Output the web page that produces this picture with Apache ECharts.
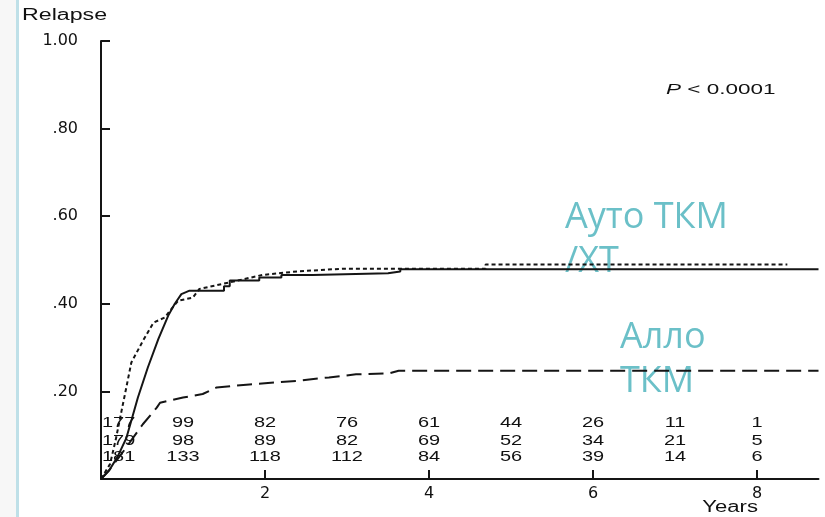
<!DOCTYPE html>
<html>
<head>
<meta charset="utf-8">
<script src="https://cdn.jsdelivr.net/npm/echarts@6/dist/echarts.min.js"></script>
<style>
  html, body { margin: 0; padding: 0; background: #fff; }
  #chart { width: 825px; height: 517px; }
</style>
</head>
<body>
<div id="chart"></div>
<script>
// cumulative relapse curves, [years, relapse]
const autoSolid = [
  [0, 0], [0.1, 0.02], [0.2, 0.05], [0.31, 0.094], [0.38, 0.14], [0.45, 0.186],
  [0.57, 0.254], [0.7, 0.32], [0.82, 0.373], [0.9, 0.4], [0.98, 0.422],
  [1.08, 0.43], [1.5, 0.43], [1.5, 0.44], [1.57, 0.44], [1.57, 0.453],
  [1.93, 0.453], [1.93, 0.46], [2.2, 0.46], [2.2, 0.466], [2.58, 0.466],
  [2.58, 0.47], [3.5, 0.47], [3.5, 0.474], [3.65, 0.474], [3.65, 0.479], [8.75, 0.479]
]
const autoDotted = [
  [0, 0], [0.11, 0.034], [0.18, 0.09], [0.25, 0.155], [0.31, 0.21], [0.37, 0.266],
  [0.51, 0.315], [0.64, 0.357], [0.78, 0.369], [0.84, 0.384], [0.94, 0.407],
  [1.12, 0.414], [1.2, 0.434], [1.57, 0.449], [1.97, 0.466], [2.4, 0.474],
  [2.94, 0.48], [4.69, 0.48], [4.69, 0.49], [8.37, 0.49]
]
const alloDashed = [
  [0, 0], [0.1, 0.02], [0.2, 0.045], [0.3, 0.07], [0.39, 0.094], [0.51, 0.125],
  [0.68, 0.163], [0.72, 0.174], [1.0, 0.186], [1.24, 0.194], [1.41, 0.209],
  [1.81, 0.216], [2.38, 0.224], [2.78, 0.232], [3.11, 0.239], [3.51, 0.241],
  [3.63, 0.247], [8.75, 0.247]
]

// numbers at risk
const riskYears = [0, 1, 2, 3, 4, 5, 6, 7, 8]
const riskRow1 = [177, 99, 82, 76, 61, 44, 26, 11, 1]
const riskRow2 = [179, 98, 89, 82, 69, 52, 34, 21, 5]
const riskRow3 = [181, 133, 118, 112, 84, 56, 39, 14, 6]

const xTicks = [2, 4, 6, 8]
const yTicks = [0.2, 0.4, 0.6, 0.8, 1.0]

const ink = '#151515'
const txt = '#111'
const cyan = '#6bc0c8'
const rowLevels = [0.129, 0.088, 0.05]

const riskData = []
;[riskRow1, riskRow2, riskRow3].forEach((row, r) => {
  row.forEach((n, i) => riskData.push([riskYears[i], n, r]))
})

const chart = echarts.init(document.getElementById('chart'))

const lineSeries = (data, type) => ({
  type: 'line',
  data: data,
  showSymbol: false,
  silent: true,
  lineStyle: { color: ink, width: 2, type: type },
  z: 3
})

// the scanned figure is stretched sideways, so black texts get scaleX
const wideText = (text, x, y, size, scale, extra) => ({
  type: 'text', x: x, y: y, scaleX: scale, silent: true,
  style: Object.assign({ text: text, fill: txt, font: size + 'px "Liberation Sans"', verticalAlign: 'middle' }, extra || {})
})

chart.setOption({
  animation: false,
  grid: { left: 101, top: 41, width: 717.5, height: 438 },
  xAxis: {
    type: 'value',
    min: 0,
    max: 8.75,
    interval: 2,
    splitLine: { show: false },
    axisLine: { lineStyle: { color: ink, width: 2 } },
    axisTick: { inside: true, length: 9, lineStyle: { color: ink, width: 2 }, customValues: xTicks },
    axisLabel: { color: txt, fontFamily: 'DejaVu Sans', fontSize: 16, margin: 7, customValues: xTicks }
  },
  yAxis: {
    type: 'value',
    min: 0,
    max: 1,
    interval: 0.2,
    splitLine: { show: false },
    axisLine: { lineStyle: { color: ink, width: 2 } },
    axisTick: { inside: true, length: 9, lineStyle: { color: ink, width: 2 }, customValues: yTicks },
    axisLabel: {
      color: txt, fontFamily: 'DejaVu Sans', fontSize: 16, margin: 23, customValues: yTicks,
      formatter: (v) => v >= 1 ? '1.00' : v.toFixed(2).replace(/^0/, '')
    }
  },
  series: [
    lineSeries(autoSolid, 'solid'),
    lineSeries(autoDotted, [4, 3]),
    lineSeries(alloDashed, [15, 7]),
    {
      type: 'custom',
      data: riskData,
      silent: true,
      z: 5,
      renderItem: (params, api) => {
        const yr = api.value(0)
        const p = api.coord([yr, rowLevels[api.value(2)]])
        return {
          type: 'text',
          x: p[0] + (yr === 0 ? 1 : 0),
          y: p[1],
          scaleX: 1.33,
          style: {
            text: String(api.value(1)),
            fill: txt,
            font: '15px "Liberation Sans"',
            align: yr === 0 ? 'left' : 'center',
            verticalAlign: 'middle'
          }
        }
      }
    }
  ],
  graphic: [
    { type: 'rect', shape: { x: 0, y: 0, width: 16, height: 517 }, style: { fill: '#f7f7f7' }, silent: true },
    { type: 'rect', shape: { x: 16, y: 0, width: 3, height: 517 }, style: { fill: '#bfe0e8' }, silent: true },
    wideText('Relapse', 22, 16, 16, 1.45),
    wideText('{i|P} < 0.0001', 666, 90, 15, 1.5, {
      rich: { i: { fontStyle: 'italic', fontFamily: 'Liberation Sans', fontSize: 15 } }
    }),
    wideText('Years', 758, 508, 16, 1.38, { align: 'right' }),
    { type: 'text', x: 565, y: 218, silent: true, style: { text: 'Ауто ТКМ', fill: cyan, font: '36px "Open Sans"', verticalAlign: 'middle' } },
    { type: 'text', x: 565, y: 262, silent: true, style: { text: '/ХТ', fill: cyan, font: '36px "Open Sans"', verticalAlign: 'middle' } },
    { type: 'text', x: 620, y: 338, silent: true, style: { text: 'Алло', fill: cyan, font: '36px "Open Sans"', verticalAlign: 'middle' } },
    { type: 'text', x: 620, y: 382, silent: true, style: { text: 'ТКМ', fill: cyan, font: '36px "Open Sans"', verticalAlign: 'middle' } }
  ]
})
</script>
</body>
</html>
